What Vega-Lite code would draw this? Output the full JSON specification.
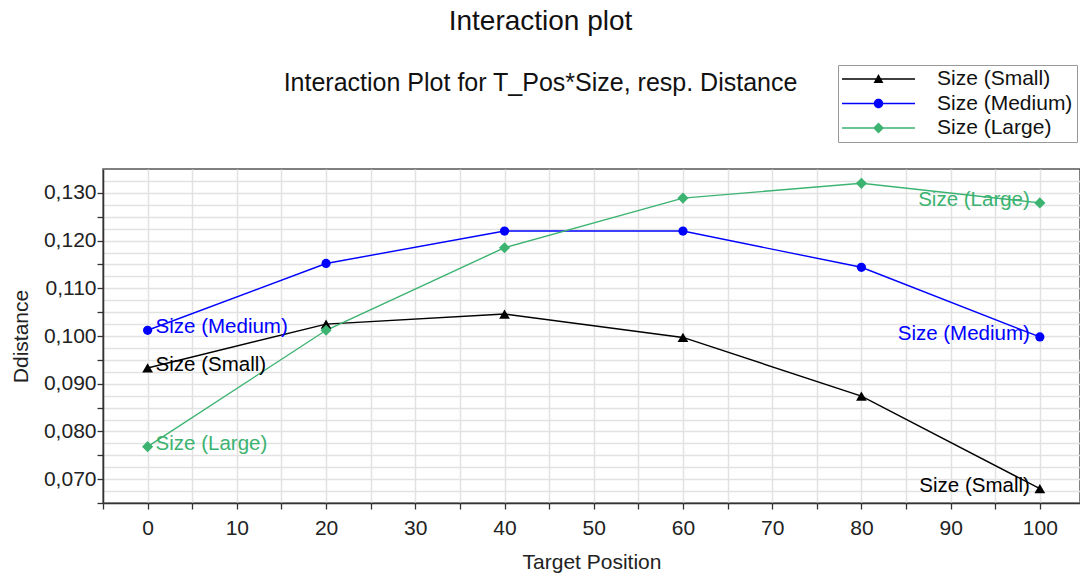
{
  "$schema": "https://vega.github.io/schema/vega-lite/v6.json",
  "width": 977,
  "height": 334,
  "autosize": {"type": "none"},
  "padding": {"left": 103, "top": 169, "right": 0, "bottom": 73},
  "background": "white",
  "title": {
    "text": "Interaction plot",
    "subtitle": "Interaction Plot for T_Pos*Size, resp. Distance",
    "anchor": "middle",
    "dx": -51,
    "offset": -31,
    "fontSize": 28,
    "fontWeight": "normal",
    "font": "Liberation Sans",
    "color": "#111",
    "subtitleFont": "Liberation Sans",
    "subtitleFontSize": 25,
    "subtitleColor": "#111",
    "subtitlePadding": 35
  },
  "data": {
    "values": [
      {"T_Pos": 0, "Distance": 0.0933, "Size": "Size (Small)"},
      {"T_Pos": 20, "Distance": 0.1025, "Size": "Size (Small)"},
      {"T_Pos": 40, "Distance": 0.1046, "Size": "Size (Small)"},
      {"T_Pos": 60, "Distance": 0.0997, "Size": "Size (Small)"},
      {"T_Pos": 80, "Distance": 0.0874, "Size": "Size (Small)"},
      {"T_Pos": 100, "Distance": 0.0680, "Size": "Size (Small)"},
      {"T_Pos": 0, "Distance": 0.1012, "Size": "Size (Medium)"},
      {"T_Pos": 20, "Distance": 0.1152, "Size": "Size (Medium)"},
      {"T_Pos": 40, "Distance": 0.1220, "Size": "Size (Medium)"},
      {"T_Pos": 60, "Distance": 0.1220, "Size": "Size (Medium)"},
      {"T_Pos": 80, "Distance": 0.1144, "Size": "Size (Medium)"},
      {"T_Pos": 100, "Distance": 0.0998, "Size": "Size (Medium)"},
      {"T_Pos": 0, "Distance": 0.0768, "Size": "Size (Large)"},
      {"T_Pos": 20, "Distance": 0.1012, "Size": "Size (Large)"},
      {"T_Pos": 40, "Distance": 0.1185, "Size": "Size (Large)"},
      {"T_Pos": 60, "Distance": 0.1289, "Size": "Size (Large)"},
      {"T_Pos": 80, "Distance": 0.1320, "Size": "Size (Large)"},
      {"T_Pos": 100, "Distance": 0.1279, "Size": "Size (Large)"}
    ]
  },
  "encoding": {
    "x": {
      "field": "T_Pos",
      "type": "quantitative",
      "scale": {"domain": [-5, 104.5], "nice": false, "zero": false},
      "axis": {
        "title": "Target Position",
        "values": [-5, 0, 5, 10, 15, 20, 25, 30, 35, 40, 45, 50, 55, 60, 65, 70, 75, 80, 85, 90, 95, 100],
        "labelExpr": "datum.value % 10 == 0 ? datum.label : ''",
        "labelPadding": 8,
        "titlePadding": 13
      }
    },
    "y": {
      "field": "Distance",
      "type": "quantitative",
      "scale": {"domain": [0.065, 0.135], "nice": false, "zero": false},
      "axis": {
        "title": "Ddistance",
        "values": [0.065, 0.0675, 0.07, 0.0725, 0.075, 0.0775, 0.08, 0.0825, 0.085, 0.0875, 0.09, 0.0925, 0.095, 0.0975, 0.1, 0.1025, 0.105, 0.1075, 0.11, 0.1125, 0.115, 0.1175, 0.12, 0.1225, 0.125, 0.1275, 0.13, 0.1325],
        "format": ".3f",
        "labelExpr": "round(datum.value * 1000) % 10 == 0 ? replace(datum.label, '.', ',') : ''",
        "tickOpacity": {"condition": {"test": "round(datum.value * 400) % 2 == 1", "value": 0}, "value": 1},
        "labelPadding": 1,
        "titlePadding": 12
      }
    }
  },
  "layer": [
    {
      "mark": {"type": "point", "filled": true, "opacity": 0},
      "encoding": {
        "color": {
          "field": "Size",
          "type": "nominal",
          "scale": {"domain": ["Size (Small)", "Size (Medium)", "Size (Large)"], "range": ["#000000", "#0000ff", "#3cb371"]}
        },
        "shape": {
          "field": "Size",
          "type": "nominal",
          "scale": {
            "domain": ["Size (Small)", "Size (Medium)", "Size (Large)"],
            "range": [
              "M-1,-0.02H1V0.02H-1Z M0,-0.14L0.135,0.11H-0.135Z",
              "M-1,-0.02H1V0.02H-1Z M0.13,0A0.13,0.13 0 1,1 -0.13,0A0.13,0.13 0 1,1 0.13,0Z",
              "M-1,-0.02H1V0.02H-1Z M0,-0.15L0.15,0L0,0.15L-0.15,0Z"
            ]
          }
        }
      }
    },
    {
      "mark": {"type": "line", "strokeWidth": 1.4},
      "encoding": {"color": {"field": "Size", "type": "nominal"}}
    },
    {
      "transform": [{"filter": "datum.Size == 'Size (Small)'"}],
      "mark": {"type": "point", "shape": "triangle-up", "filled": true, "size": 115, "opacity": 1, "strokeWidth": 0},
      "encoding": {"color": {"field": "Size", "type": "nominal"}}
    },
    {
      "transform": [{"filter": "datum.Size == 'Size (Medium)'"}],
      "mark": {"type": "point", "shape": "circle", "filled": true, "size": 85, "opacity": 1, "strokeWidth": 0},
      "encoding": {"color": {"field": "Size", "type": "nominal"}}
    },
    {
      "transform": [{"filter": "datum.Size == 'Size (Large)'"}],
      "mark": {"type": "point", "shape": "diamond", "filled": true, "size": 125, "opacity": 1, "strokeWidth": 0},
      "encoding": {"color": {"field": "Size", "type": "nominal"}}
    },
    {
      "transform": [{"filter": "datum.T_Pos == 0"}],
      "mark": {"type": "text", "align": "left", "baseline": "middle", "dx": 8, "dy": -3, "fontSize": 20.5, "font": "Liberation Sans"},
      "encoding": {
        "text": {"field": "Size"},
        "color": {"field": "Size", "type": "nominal"}
      }
    },
    {
      "transform": [{"filter": "datum.T_Pos == 100"}],
      "mark": {"type": "text", "align": "right", "baseline": "middle", "dx": -10, "dy": -3, "fontSize": 20.5, "font": "Liberation Sans"},
      "encoding": {
        "text": {"field": "Size"},
        "color": {"field": "Size", "type": "nominal"}
      }
    }
  ],
  "config": {
    "view": {"stroke": "#555", "strokeWidth": 1.5},
    "legend": {
      "title": null,
      "orient": "none",
      "legendX": 735,
      "legendY": -104,
      "symbolSize": 5329,
      "symbolStrokeWidth": 0,
      "symbolOpacity": 1,
      "clipHeight": 20,
      "labelOffset": 22,
      "labelFontSize": 21,
      "labelFont": "Liberation Sans",
      "labelColor": "#111",
      "labelLimit": 300,
      "rowPadding": 3.5,
      "padding": 4,
      "strokeColor": "#999",
      "fillColor": "white"
    },
    "axis": {
      "labelFont": "Liberation Sans",
      "labelFontSize": 21,
      "labelColor": "#222",
      "titleFont": "Liberation Sans",
      "titleFontSize": 21,
      "titleFontWeight": "normal",
      "titleColor": "#222",
      "gridColor": "#e2e2e2",
      "gridWidth": 1.5,
      "domainColor": "#333",
      "domainWidth": 1.5,
      "tickColor": "#333",
      "tickWidth": 1.3,
      "tickSize": 6,
      "labelFlush": false,
      "labelOverlap": false
    }
  }
}
